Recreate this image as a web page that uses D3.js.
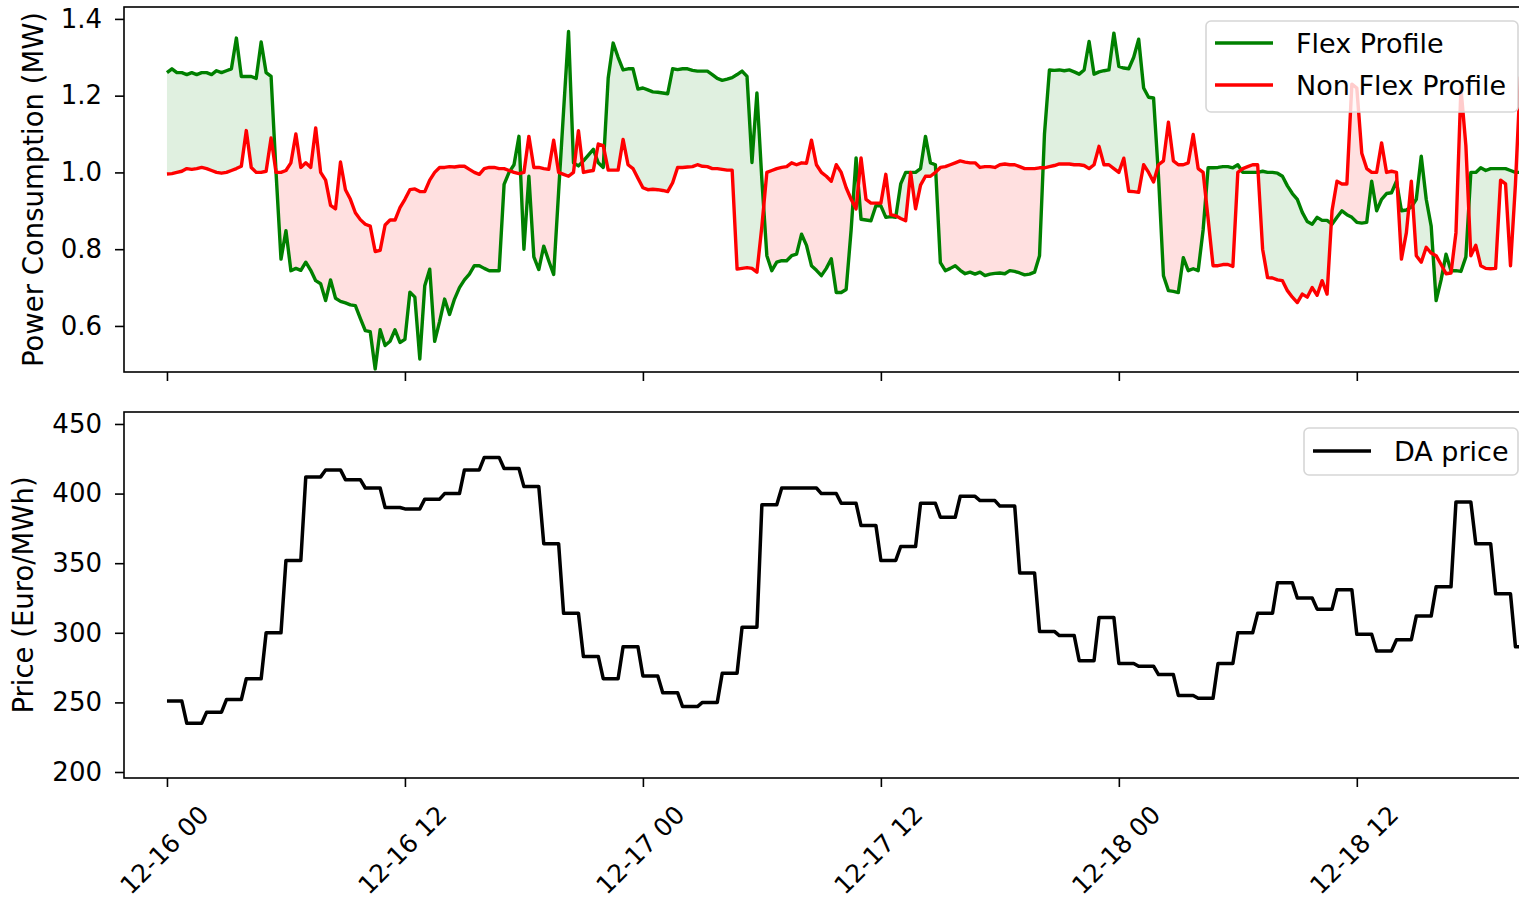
<!DOCTYPE html>
<html>
<head>
<meta charset="utf-8">
<script src="https://cdn.jsdelivr.net/npm/d3@7"></script>
<style>
  html, body { margin: 0; padding: 0; background: #fff; }
  svg { display: block; font-family: "DejaVu Sans", sans-serif; }
</style>
</head>
<body>
<div id="chart"></div>
<script>
// 15-minute samples from 12-16 00:00, power in MW
const flexProfile = [
  1.26, 1.27, 1.26, 1.26,   1.255, 1.26, 1.255, 1.26,   1.26, 1.255, 1.265, 1.26,   1.265, 1.27, 1.35, 1.25,
  1.25, 1.25, 1.245, 1.34,  1.26, 1.25, 1.0, 0.774,     0.848, 0.744, 0.75, 0.745,  0.766, 0.745, 0.718, 0.71,
  0.666, 0.72, 0.672, 0.664, 0.66, 0.655, 0.653, 0.62,  0.588, 0.585, 0.488, 0.59,  0.549, 0.56, 0.59, 0.557,
  0.565, 0.688, 0.675, 0.514, 0.705, 0.748, 0.56, 0.612, 0.67, 0.63, 0.67, 0.70,   0.72, 0.735, 0.757, 0.757,
  0.75, 0.744, 0.744, 0.744, 0.969, 1.0, 1.02, 1.094,   0.80, 0.99, 0.78, 0.747,    0.808, 0.77, 0.734, 0.95,
  1.16, 1.367, 1.025, 1.017, 1.03, 1.045, 1.06, 1.025,  1.013, 1.246, 1.337, 1.30,  1.267, 1.27, 1.27, 1.217,
  1.22, 1.215, 1.21, 1.209,  1.207, 1.205, 1.27, 1.268, 1.27, 1.27, 1.266, 1.264,   1.264, 1.264, 1.255, 1.245,
  1.24, 1.243, 1.247, 1.255, 1.264, 1.25, 1.026, 1.207, 0.98, 0.783, 0.744, 0.766,  0.77, 0.77, 0.783, 0.787,
  0.839, 0.81, 0.757, 0.745, 0.731, 0.75, 0.775, 0.687, 0.687, 0.695, 0.85, 1.038,  0.878, 0.876, 0.874, 0.913,
  0.913, 0.883, 0.885, 0.883, 0.97, 1.0, 1.0, 1.0,      1.01, 1.094, 1.025, 1.02,   0.765, 0.744, 0.75, 0.757,
  0.745, 0.736, 0.74, 0.735, 0.74, 0.731, 0.735, 0.737, 0.738, 0.736, 0.744, 0.742, 0.738, 0.733, 0.735, 0.74,
  0.783, 1.10, 1.267, 1.266, 1.267, 1.265, 1.267, 1.262, 1.256, 1.267, 1.341, 1.256, 1.262, 1.265, 1.267, 1.363,
  1.276, 1.272, 1.27, 1.30,  1.347, 1.22, 1.196, 1.194, 0.99, 0.731, 0.692, 0.69,   0.687, 0.778, 0.744, 0.749,
  0.744, 0.85, 1.012, 1.012, 1.013, 1.015, 1.015, 1.012, 1.02, 1.0, 1.0, 1.0,       1.0, 1.003, 1.0, 1.0,
  0.998, 0.99, 0.965, 0.945, 0.93, 0.896, 0.872, 0.865, 0.883, 0.875, 0.875, 0.865, 0.883, 0.9, 0.89, 0.883,
  0.87, 0.868, 0.87, 0.977,  0.9, 0.93, 0.945, 0.947,   0.977, 0.9, 0.902, 0.91,    0.93, 1.042, 0.93, 0.86,
  0.666, 0.72, 0.787, 0.744, 0.744, 0.742, 0.78, 1.0,   1.0, 1.012, 1.005, 1.01,    1.01, 1.01, 1.01, 1.005,
  1.0, 1.0
];

const nonFlexProfile = [
  0.996, 0.997, 1.0, 1.003,  1.01, 1.008, 1.01, 1.013,  1.01, 1.005, 1.0, 0.998,   1.0, 1.005, 1.01, 1.016,
  1.109, 1.013, 1.0, 1.0,    1.003, 1.09, 1.0, 1.0,     1.005, 1.025, 1.10, 1.013,  1.025, 1.013, 1.116, 1.0,
  0.98, 0.914, 0.905, 1.027, 0.955, 0.93, 0.895, 0.877, 0.865, 0.86, 0.794, 0.797,  0.863, 0.876, 0.876, 0.908,
  0.93, 0.955, 0.957, 0.95,  0.95, 0.98, 1.0, 1.013,    1.013, 1.015, 1.014, 1.016, 1.016, 1.008, 1.0, 0.995,
  1.01, 1.013, 1.013, 1.01,  1.01, 1.005, 1.0, 0.997,   1.0, 1.094, 1.013, 1.013,   1.01, 1.008, 1.084, 1.0,
  0.995, 0.99, 1.0, 1.109,   1.0, 1.003, 1.005, 1.074,  1.07, 1.006, 1.006, 1.006,  1.086, 1.02, 1.01, 0.985,
  0.96, 0.955, 0.956, 0.955, 0.953, 0.95, 0.973, 1.013, 1.013, 1.014, 1.015, 1.02,  1.016, 1.015, 1.01, 1.01,
  1.008, 1.006, 1.006, 0.748, 0.75, 0.752, 0.75, 0.74,  0.86, 1.0, 1.005, 1.01,     1.013, 1.015, 1.025, 1.02,
  1.025, 1.024, 1.084, 1.02, 1.0, 0.99, 0.977, 1.02,    1.0, 0.96, 0.93, 0.905,     1.038, 0.93, 0.92, 0.92,
  0.92, 0.995, 0.89, 0.887,  0.88, 0.874, 1.0, 0.905,   0.967, 0.99, 0.99, 1.0,     1.013, 1.015, 1.02, 1.025,
  1.03, 1.027, 1.025, 1.025, 1.013, 1.015, 1.015, 1.013, 1.02, 1.022, 1.02, 1.02,   1.015, 1.01, 1.01, 1.01,
  1.012, 1.012, 1.015, 1.018, 1.022, 1.022, 1.022, 1.02, 1.02, 1.018, 1.01, 1.02,   1.068, 1.02, 1.02, 1.01,
  1.0, 1.037, 0.951, 0.95,   0.948, 1.02, 1.0, 0.975,   1.02, 1.03, 1.131, 1.03,    1.02, 1.02, 1.025, 1.099,
  1.01, 1.0, 0.88, 0.757,    0.757, 0.76, 0.76, 0.755,  1.0, 1.01, 1.015, 1.02,     1.02, 0.80, 0.726, 0.725,
  0.72, 0.718, 0.692, 0.675, 0.661, 0.683, 0.675, 0.70, 0.68, 0.718, 0.683, 0.9,    0.977, 0.97, 0.97, 1.23,
  1.22, 1.05, 1.01, 1.0,     1.0, 1.077, 1.0, 1.003,    1.0, 0.774, 0.843, 0.977,   0.783, 0.766, 0.805, 0.79,
  0.783, 0.76, 0.736, 0.738, 0.843, 1.22, 1.07, 0.783,  0.81, 0.757, 0.75, 0.749,   0.75, 0.98, 0.97, 0.757,
  0.97, 1.25
];

// hourly day-ahead price, Euro/MWh
const daPrice = [
  251, 235, 243, 252, 267, 300, 352, 412, 417, 410, 404, 390, 389, 396, 400, 417, 426, 418, 405, 364,
  314, 283, 267, 290, 269, 257, 247, 250, 271, 304, 392, 404, 404, 400, 393, 377, 352, 362, 393, 383,
  398, 395, 391, 343, 301, 298, 280, 311, 278, 276, 270, 255, 253, 278, 300, 314, 336, 325, 317, 331,
  299, 287, 295, 312, 333, 394, 364, 328, 290
];

const powerTicks = [0.6, 0.8, 1.0, 1.2, 1.4];
const priceTicks = [200, 250, 300, 350, 400, 450];
const seriesNames = ["Flex Profile", "Non Flex Profile", "DA price"];

const width = 1519, height = 902;
const plotLeft = 124, plotRight = 1530;   // right spine sits off the picture
const topPanel = { y0: 7, y1: 372 };
const botPanel = { y0: 412, y1: 778 };

const start = new Date(2022, 11, 16, 0, 0);
const times = flexProfile.map((_, i) => d3.timeMinute.offset(start, i * 15));
const tickDates = d3.range(0, 6).map(i => d3.timeHour.offset(start, i * 12));

const svg = d3.select("#chart").append("svg")
  .attr("width", width)
  .attr("height", height);

svg.append("rect").attr("width", width).attr("height", height).attr("fill", "#fff");

const x = d3.scaleTime()
  .domain([d3.timeMinute.offset(start, -130), d3.timeMinute.offset(start, 4124)])
  .range([plotLeft, plotRight]);

const yPower = d3.scaleLinear().domain([0.48, 1.431]).range([topPanel.y1, topPanel.y0]);
const yPrice = d3.scaleLinear().domain([195.7, 458.6]).range([botPanel.y1, botPanel.y0]);

const defs = svg.append("defs");
[["clipTop", topPanel], ["clipBot", botPanel]].forEach(([id, p]) => {
  defs.append("clipPath").attr("id", id)
    .append("rect")
    .attr("x", plotLeft).attr("y", p.y0)
    .attr("width", plotRight - plotLeft).attr("height", p.y1 - p.y0);
});

// ---- top panel: fills between the two profiles ----
const pts = [];
for (let i = 0; i < times.length; i++) {
  const f = flexProfile[i], n = nonFlexProfile[i];
  pts.push({ t: +times[i], f, n });
  if (i < times.length - 1) {
    const d0 = f - n, d1 = flexProfile[i + 1] - nonFlexProfile[i + 1];
    if (d0 * d1 < 0) {
      const a = d0 / (d0 - d1);
      pts.push({
        t: +times[i] + a * (times[i + 1] - times[i]),
        f: f + a * (flexProfile[i + 1] - f),
        n: n + a * (nonFlexProfile[i + 1] - n)
      });
    }
  }
}

const gTop = svg.append("g").attr("clip-path", "url(#clipTop)");

gTop.append("path")
  .datum(pts)
  .attr("fill", "green")
  .attr("fill-opacity", 0.12)
  .attr("d", d3.area()
    .x(d => x(d.t))
    .y0(d => yPower(d.n))
    .y1(d => yPower(Math.max(d.f, d.n))));

gTop.append("path")
  .datum(pts)
  .attr("fill", "red")
  .attr("fill-opacity", 0.12)
  .attr("d", d3.area()
    .x(d => x(d.t))
    .y0(d => yPower(d.f))
    .y1(d => yPower(Math.max(d.f, d.n))));

const powerLine = values => d3.line()
  .x((d, i) => x(times[i]))
  .y(d => yPower(d))(values);

gTop.append("path")
  .attr("d", powerLine(flexProfile))
  .attr("fill", "none")
  .attr("stroke", "green")
  .attr("stroke-width", 3.4)
  .attr("stroke-linejoin", "round");

gTop.append("path")
  .attr("d", powerLine(nonFlexProfile))
  .attr("fill", "none")
  .attr("stroke", "red")
  .attr("stroke-width", 3.4)
  .attr("stroke-linejoin", "round");

// ---- bottom panel: price ----
const pricePts = times.map((t, i) => ({ t, p: daPrice[Math.floor(i / 4)] }));

svg.append("g").attr("clip-path", "url(#clipBot)")
  .append("path")
  .datum(pricePts)
  .attr("fill", "none")
  .attr("stroke", "black")
  .attr("stroke-width", 3.5)
  .attr("stroke-linejoin", "round")
  .attr("d", d3.line().x(d => x(d.t)).y(d => yPrice(d.p)));

// ---- axes ----
function styleAxis(g) {
  g.select(".domain").remove();
  g.selectAll(".tick line").attr("stroke", "#000").attr("stroke-width", 1.6);
  g.selectAll(".tick text")
    .attr("fill", "#000")
    .style("font-family", "'DejaVu Sans', sans-serif")
    .style("font-size", "26px");
}

svg.append("g")
  .attr("transform", `translate(${plotLeft},0)`)
  .call(d3.axisLeft(yPower).tickValues(powerTicks).tickFormat(d3.format(".1f")).tickSize(9).tickPadding(13))
  .call(styleAxis);

svg.append("g")
  .attr("transform", `translate(${plotLeft},0)`)
  .call(d3.axisLeft(yPrice).tickValues(priceTicks).tickFormat(d3.format("d")).tickSize(9).tickPadding(13))
  .call(styleAxis);

svg.append("g")
  .attr("transform", `translate(0,${topPanel.y1})`)
  .call(d3.axisBottom(x).tickValues(tickDates).tickFormat("").tickSize(9))
  .call(styleAxis);

svg.append("g")
  .attr("transform", `translate(0,${botPanel.y1})`)
  .call(d3.axisBottom(x).tickValues(tickDates).tickFormat(d3.timeFormat("%m-%d %H")).tickSize(9))
  .call(styleAxis)
  .call(g => g.selectAll(".tick text")
    .style("font-size", "25px")
    .attr("y", null)
    .attr("dy", null)
    .attr("text-anchor", "middle")
    .attr("dominant-baseline", "central")
    .attr("transform", "translate(-3,72) rotate(-45)"));

// spines
[topPanel, botPanel].forEach(p => {
  svg.append("rect")
    .attr("x", plotLeft).attr("y", p.y0)
    .attr("width", plotRight - plotLeft).attr("height", p.y1 - p.y0)
    .attr("fill", "none")
    .attr("stroke", "#000")
    .attr("stroke-width", 1.6);
});

// axis titles
svg.append("text")
  .attr("transform", `translate(43,${(topPanel.y0 + topPanel.y1) / 2}) rotate(-90)`)
  .attr("text-anchor", "middle")
  .style("font-size", "27.5px")
  .text("Power Consumption (MW)");

svg.append("text")
  .attr("transform", `translate(33,${(botPanel.y0 + botPanel.y1) / 2}) rotate(-90)`)
  .attr("text-anchor", "middle")
  .style("font-size", "27.5px")
  .text("Price (Euro/MWh)");

// legends
function legend(x0, y0, x1, y1, items) {
  const g = svg.append("g");
  g.append("rect")
    .attr("x", x0).attr("y", y0)
    .attr("width", x1 - x0).attr("height", y1 - y0)
    .attr("rx", 5)
    .attr("fill", "#fff").attr("fill-opacity", 0.8)
    .attr("stroke", "#d6d6d6").attr("stroke-width", 1.6);
  items.forEach(it => {
    g.append("line")
      .attr("x1", x0 + 9).attr("x2", x0 + 67)
      .attr("y1", it.y).attr("y2", it.y)
      .attr("stroke", it.color).attr("stroke-width", 3.5);
    g.append("text")
      .attr("x", x0 + 90).attr("y", it.y)
      .attr("dominant-baseline", "central")
      .style("font-size", "27px")
      .text(it.name);
  });
}

legend(1206, 21, 1518, 112, [
  { name: seriesNames[0], color: "green", y: 43 },
  { name: seriesNames[1], color: "red", y: 85 }
]);
legend(1304, 428, 1518, 475, [
  { name: seriesNames[2], color: "black", y: 451 }
]);
</script>
</body>
</html>
